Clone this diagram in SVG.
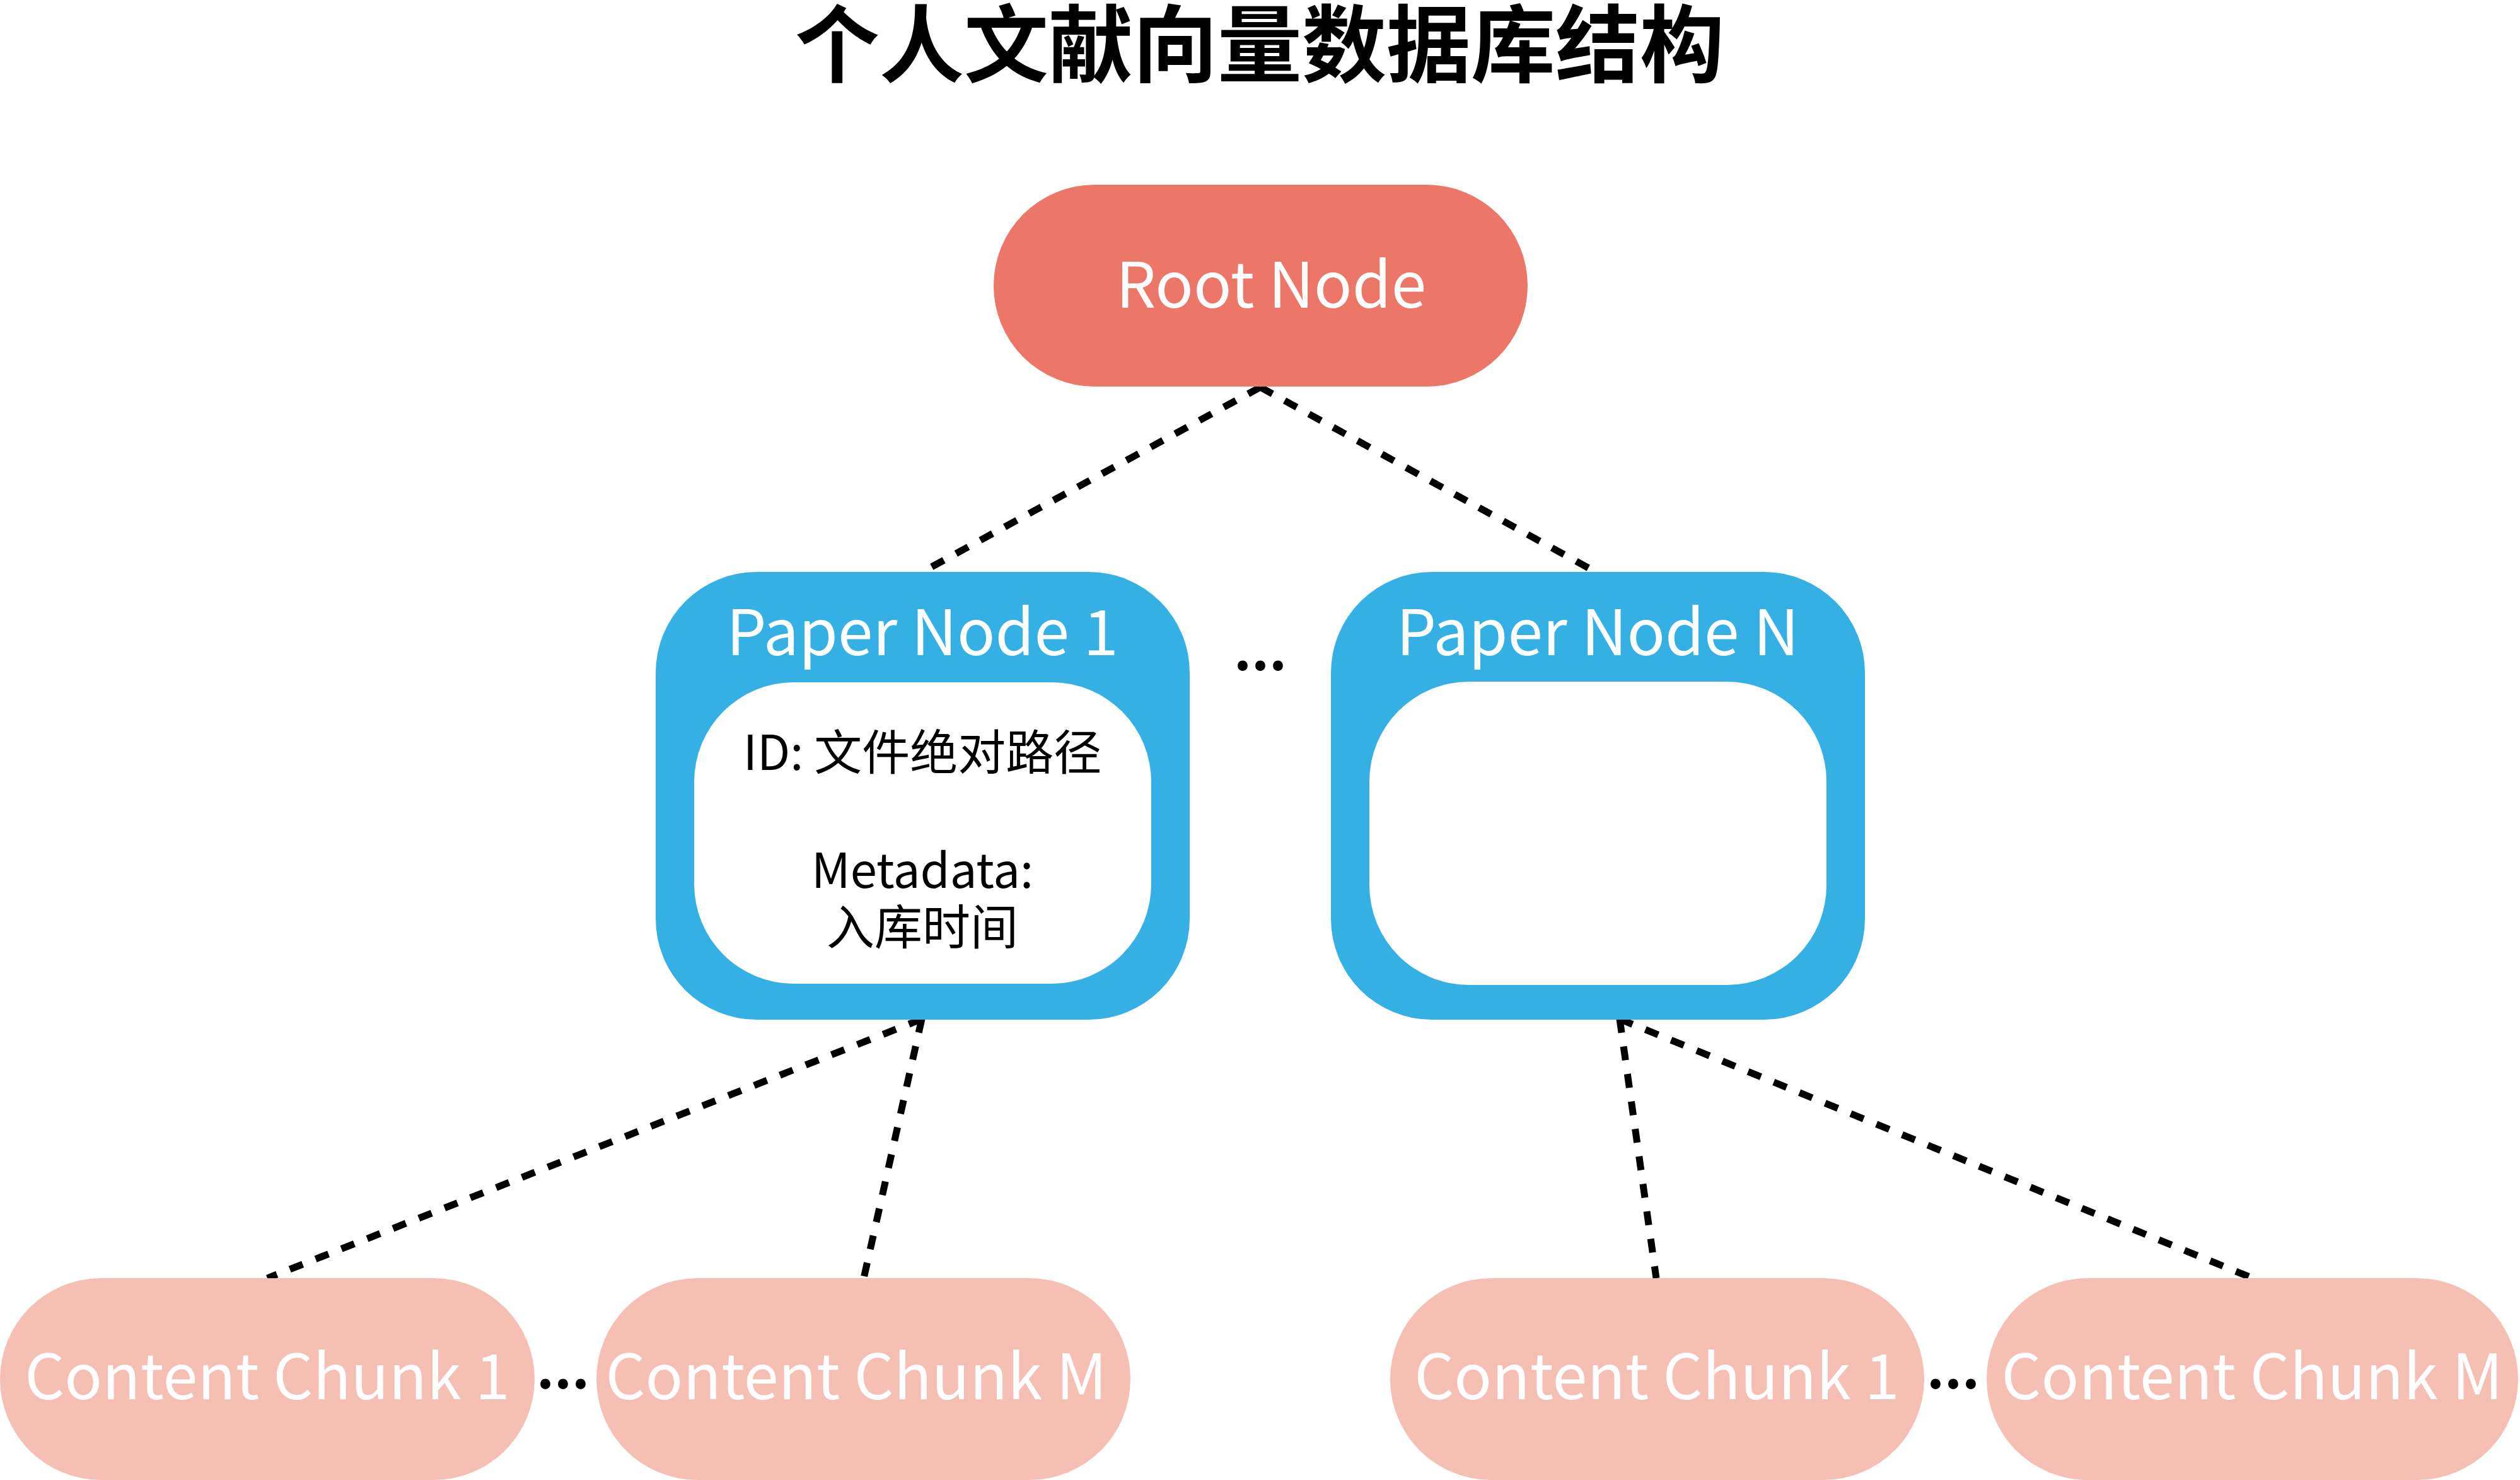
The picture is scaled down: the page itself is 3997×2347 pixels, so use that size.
<svg xmlns="http://www.w3.org/2000/svg" width="3997" height="2347" viewBox="0 0 3997 2347">
<style>
text{font-family:"Noto Sans CJK SC","Noto Sans",sans-serif;text-anchor:middle}
.title{font-size:134px;font-weight:bold;fill:#000}
.root{fill:#EC7768}
.paper{fill:#35B0E5}
.inner{fill:#fff}
.chunk{fill:#F6BFB3}
.wl{fill:#fff;font-size:100px}
.cl{fill:#fff;font-size:99px}
.bl{fill:#000;font-size:76px}
.dots{fill:#000;font-size:86px;font-weight:bold}
.conn{stroke:#000;stroke-width:11;stroke-dasharray:22 22;fill:none}
</style>
<rect width="3997" height="2347" fill="#fff"/>
<text class="title" x="1998" y="120">个人文献向量数据库结构</text>
<g id="connectors">
<line class="conn" x1="1999" y1="614" x2="1463" y2="907"/>
<line class="conn" x1="1999" y1="614" x2="2531" y2="907"/>
<line class="conn" x1="1462" y1="1616" x2="424" y2="2027"/>
<line class="conn" x1="1462" y1="1616" x2="1370" y2="2027"/>
<line class="conn" x1="2569" y1="1616" x2="2627" y2="2027"/>
<line class="conn" x1="2569" y1="1616" x2="3573" y2="2027"/>
</g>
<g id="root">
<rect class="root" x="1576" y="293" width="847" height="320" rx="160"/>
<text class="wl" x="2016" y="488">Root Node</text>
</g>
<g id="paper1">
<rect class="paper" x="1040" y="907" width="847" height="710" rx="160"/>
<rect class="inner" x="1101" y="1082" width="725" height="478" rx="158"/>
<text class="wl" x="1463" y="1039">Paper Node 1</text>
<text class="bl" x="1463" y="1221">ID: 文件绝对路径</text>
<text class="bl" x="1463" y="1408">Metadata:</text>
<text class="bl" x="1463" y="1498">入库时间</text>
</g>
<text class="dots" x="1999" y="1063">...</text>
<g id="paperN">
<rect class="paper" x="2111" y="907" width="847" height="710" rx="160"/>
<rect class="inner" x="2172" y="1081" width="725" height="481" rx="158"/>
<text class="wl" x="2534" y="1039">Paper Node N</text>
</g>
<g id="chunk1a">
<rect class="chunk" x="0" y="2027" width="848" height="320" rx="160"/>
<text class="cl" x="424" y="2219">Content Chunk 1</text>
</g>
<text class="dots" x="893" y="2202">...</text>
<g id="chunkMa">
<rect class="chunk" x="946" y="2027" width="847" height="320" rx="160"/>
<text class="cl" x="1358" y="2219">Content Chunk M</text>
</g>
<g id="chunk1b">
<rect class="chunk" x="2205" y="2027" width="847" height="320" rx="160"/>
<text class="cl" x="2628" y="2219">Content Chunk 1</text>
</g>
<text class="dots" x="3098" y="2202">...</text>
<g id="chunkMb">
<rect class="chunk" x="3151" y="2027" width="843" height="320" rx="160"/>
<text class="cl" x="3572" y="2219">Content Chunk M</text>
</g>
</svg>
